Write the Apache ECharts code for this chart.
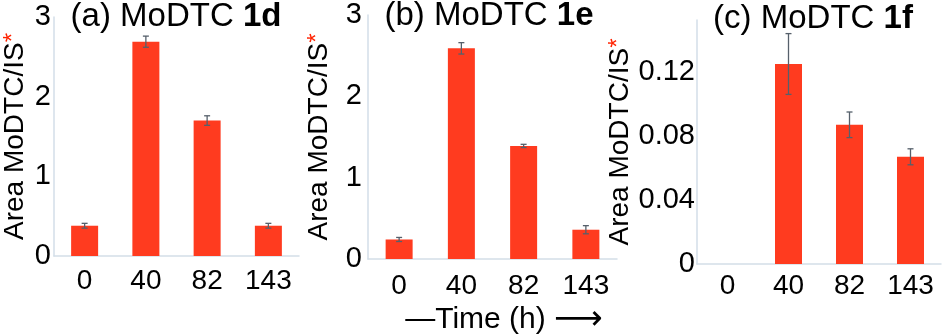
<!DOCTYPE html>
<html>
<head>
<meta charset="utf-8">
<script src="https://cdn.jsdelivr.net/npm/echarts@6/dist/echarts.min.js"></script>
<style>
html,body{margin:0;padding:0;background:#fff;}
#chart{width:945px;height:335px;}
</style>
</head>
<body>
<div id="chart"></div>
<script>
// ---- data ----
const categories = ['0', '40', '82', '143'];
const valuesA = [0.38, 2.69, 1.70, 0.38];
const errorsA = [0.03, 0.07, 0.06, 0.03];
const valuesB = [0.24, 2.59, 1.39, 0.36];
const errorsB = [0.025, 0.07, 0.02, 0.05];
const valuesC = [0, 0.125, 0.087, 0.067];
const errorsC = [0, 0.019, 0.008, 0.005];
const panelTitles = ['(a) MoDTC ', '(b) MoDTC ', '(c) MoDTC '];
const panelCompounds = ['1d', '1e', '1f'];
const yAxisTitle = 'Area MoDTC/IS';
const xAxisTitle = 'Time (h)';

const FONT = 'Liberation Sans, Arial, Helvetica, sans-serif';
const BAR = '#ff3b1f';
const AXIS = '#d3dee8';
const ERR = '#56606b';

const grids = [
  {left: 53, top: 17, width: 246, bottom: 79},
  {left: 368, top: 15, width: 249, bottom: 76},
  {left: 697, top: 20, width: 244, bottom: 71}
];
const yMax = [3, 3, 0.1525];
const yInterval = [1, 1, 0.04];
const yLabelMargin = [3, 6, 2];
const yNameGap = [25, 35, 62];
const xLabelMargin = [11, 13, 8];
const titleX = [176, 489, 813];
const titleY = [0, -1, 2];

const values = [valuesA, valuesB, valuesC];
const errors = [errorsA, errorsB, errorsC];

function errRender(params, api) {
  const x = api.value(0), v = api.value(1), e = api.value(2);
  if (!(e > 0)) return null;
  const top = api.coord([x, v + e]);
  const bot = api.coord([x, v - e]);
  const cw = 3;
  const style = {stroke: ERR, lineWidth: 1.3};
  return {
    type: 'group',
    children: [
      {type: 'line', shape: {x1: top[0], y1: top[1], x2: bot[0], y2: bot[1]}, style},
      {type: 'line', shape: {x1: top[0] - cw, y1: top[1], x2: top[0] + cw, y2: top[1]}, style},
      {type: 'line', shape: {x1: bot[0] - cw, y1: bot[1], x2: bot[0] + cw, y2: bot[1]}, style}
    ]
  };
}

const option = {
  backgroundColor: '#fff',
  animation: false,
  title: panelTitles.map((t, i) => ({
    text: '{n|' + t + '}{b|' + panelCompounds[i] + '}',
    left: titleX[i],
    top: titleY[i],
    textAlign: 'center',
    padding: 0,
    textStyle: {
      fontWeight: 'normal',
      rich: {
        n: {fontFamily: FONT, fontSize: 33, fontWeight: 'normal', color: '#000'},
        b: {fontFamily: FONT, fontSize: 33, fontWeight: 'bold', color: '#000'}
      }
    }
  })),
  grid: grids,
  xAxis: grids.map((g, i) => ({
    type: 'category',
    gridIndex: i,
    data: categories,
    axisLine: {show: true, lineStyle: {color: AXIS, width: 1.5}},
    axisTick: {show: false},
    axisLabel: {color: '#000', fontFamily: FONT, fontSize: 28, margin: xLabelMargin[i]},
    splitLine: {show: false}
  })),
  yAxis: grids.map((g, i) => ({
    type: 'value',
    gridIndex: i,
    min: 0,
    max: yMax[i],
    interval: yInterval[i],
    axisLine: {show: true, lineStyle: {color: AXIS, width: 1.5}},
    axisTick: {show: false},
    splitLine: {show: false},
    axisLabel: {color: '#000', fontFamily: FONT, fontSize: 29, margin: yLabelMargin[i], showMaxLabel: i === 2 ? false : true},
    name: '{a|' + yAxisTitle + '}{s|*}',
    nameLocation: 'middle',
    nameRotate: 90,
    nameGap: yNameGap[i],
    nameTextStyle: {
      rich: {
        a: {fontFamily: FONT, fontSize: 28, color: '#000'},
        s: {fontFamily: FONT, fontSize: 24, color: '#ff2200', verticalAlign: 'top'}
      }
    }
  })),
  series: [].concat(
    values.map((vals, i) => ({
      type: 'bar',
      xAxisIndex: i,
      yAxisIndex: i,
      data: vals,
      barWidth: 27,
      itemStyle: {color: BAR}
    })),
    values.map((vals, i) => ({
      type: 'custom',
      xAxisIndex: i,
      yAxisIndex: i,
      renderItem: errRender,
      encode: {x: 0, y: 1},
      data: vals.map((v, j) => [j, v, errors[i][j]]),
      z: 5
    }))
  ),
  graphic: [{
    type: 'text',
    x: 504,
    y: 320,
    style: {
      text: '—{t|' + xAxisTitle + '} {r|⟶}',
      fill: '#000',
      font: '30px ' + FONT,
      align: 'center',
      verticalAlign: 'middle',
      rich: {
        t: {fontFamily: FONT, fontSize: 30, color: '#000'},
        r: {fontFamily: 'DejaVu Sans', fontSize: 34, color: '#000'}
      }
    }
  }]
};

const chart = echarts.init(document.getElementById('chart'), null, {renderer: 'canvas'});
chart.setOption(option);
</script>
</body>
</html>
